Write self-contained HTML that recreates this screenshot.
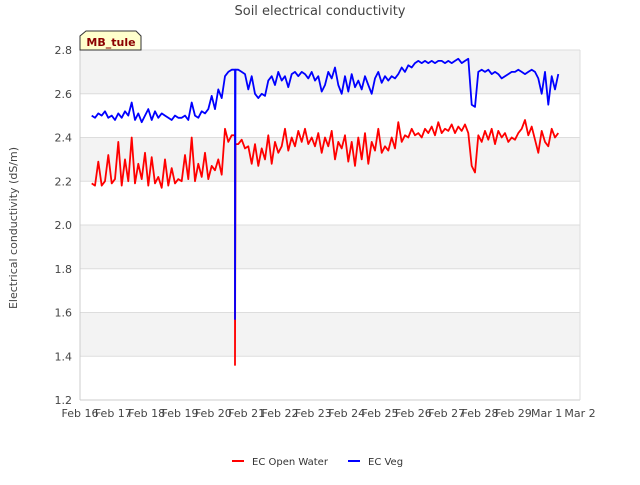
<!DOCTYPE html>
<html><head><meta charset="utf-8"><style>
body{margin:0;background:#fff;font-family:"Liberation Sans",sans-serif}
text{font-family:"DejaVu Sans","Liberation Sans",sans-serif}
</style></head><body>
<svg id="chart" width="640" height="480" xmlns="http://www.w3.org/2000/svg">
<text x="320" y="15" text-anchor="middle" font-size="13" fill="#444">Soil electrical conductivity</text>
<g id="bands"></g>
<g id="grid"></g>
<line x1="80" y1="50" x2="80" y2="400" stroke="#ccc"/>
<line x1="80" y1="400" x2="580" y2="400" stroke="#ccc"/>
<line x1="580" y1="50" x2="580" y2="400" stroke="#ddd"/>
<g id="ylabels"></g><g id="xlabels"></g>
<g id="series"></g>
<text transform="translate(17,228) rotate(-90)" text-anchor="middle" font-size="11" fill="#444">Electrical conductivity (dS/m)</text>
<g>
<path d="M80,50 L80,36 L86,31 L136,31 L141,36 L141,50 Z" fill="#ffffcc" stroke="#333"/>
<text x="111" y="46" text-anchor="middle" font-size="11" font-weight="bold" fill="#8b0000">MB_tule</text>
</g>
<g><line x1="232" y1="461" x2="244" y2="461" stroke="#f00" stroke-width="2"/><text x="252" y="465" font-size="10" fill="#333">EC Open Water</text></g>
<g><line x1="348" y1="461" x2="360" y2="461" stroke="#00f" stroke-width="2"/><text x="368" y="465" font-size="10" fill="#333">EC Veg</text></g>
</svg>
<script>
const yTicks=[1.2,1.4,1.6,1.8,2.0,2.2,2.4,2.6,2.8];
const xTickLabels=["Feb 16","Feb 17","Feb 18","Feb 19","Feb 20","Feb 21","Feb 22","Feb 23","Feb 24","Feb 25","Feb 26","Feb 27","Feb 28","Feb 29","Mar 1","Mar 2"];
const startDay=0.35, stepDay=0.1;
const ecOpenWater=[2.19,2.18,2.29,2.18,2.20,2.32,2.19,
2.21,2.38,2.18,2.30,2.20,2.40,2.19,2.28,2.21,2.33,
2.18,2.31,2.19,2.22,2.17,2.30,2.18,2.26,2.19,2.21,
2.20,2.32,2.21,2.40,2.20,2.28,2.22,2.33,2.21,2.27,
2.25,2.30,2.23,2.44,2.38,2.41,1.36,2.37,2.39,2.35,
2.36,2.28,2.37,2.27,2.35,2.30,2.41,2.28,2.38,2.33,
2.36,2.44,2.34,2.40,2.36,2.43,2.38,2.44,2.37,2.40,
2.36,2.42,2.33,2.40,2.36,2.43,2.30,2.38,2.35,2.41,
2.29,2.38,2.27,2.40,2.30,2.42,2.28,2.38,2.34,2.44,
2.33,2.36,2.34,2.40,2.35,2.47,2.38,2.41,2.40,2.44,
2.41,2.42,2.40,2.44,2.42,2.45,2.41,2.47,2.42,2.44,
2.43,2.46,2.42,2.45,2.43,2.46,2.42,2.27,2.24,2.41,
2.38,2.43,2.39,2.44,2.37,2.43,2.40,2.42,2.38,2.40,
2.39,2.42,2.44,2.48,2.41,2.45,2.39,2.33,2.43,2.38,
2.36,2.44,2.40,2.42];
const ecVeg=[2.50,2.49,2.51,2.50,2.52,2.49,2.50,
2.48,2.51,2.49,2.52,2.50,2.56,2.48,2.51,2.47,2.50,
2.53,2.48,2.52,2.49,2.51,2.50,2.49,2.48,2.50,2.49,
2.49,2.50,2.48,2.56,2.50,2.49,2.52,2.51,2.53,2.59,
2.53,2.62,2.58,2.68,2.70,2.71,1.57,2.71,2.70,2.69,
2.62,2.68,2.60,2.58,2.60,2.59,2.66,2.68,2.64,2.70,
2.66,2.68,2.63,2.69,2.70,2.68,2.70,2.69,2.67,2.70,
2.66,2.68,2.61,2.64,2.70,2.67,2.72,2.64,2.60,2.68,
2.61,2.69,2.63,2.66,2.62,2.68,2.64,2.60,2.67,2.70,
2.65,2.68,2.66,2.68,2.67,2.69,2.72,2.70,2.73,2.72,
2.74,2.75,2.74,2.75,2.74,2.75,2.74,2.75,2.75,2.74,
2.75,2.74,2.75,2.76,2.74,2.75,2.76,2.55,2.54,2.70,
2.71,2.70,2.71,2.69,2.70,2.69,2.67,2.68,2.69,2.70,
2.70,2.71,2.70,2.69,2.70,2.71,2.70,2.67,2.60,2.70,
2.55,2.68,2.62,2.69];
const NS="http://www.w3.org/2000/svg";
const X0=80,X1=580,Y0=400,Y1=50;
const xS=d=>X0+d*(X1-X0)/15;
const yS=v=>Y0-(v-1.2)*(Y0-Y1)/1.6;
function mk(tag,attrs,parent){const e=document.createElementNS(NS,tag);for(const k in attrs)e.setAttribute(k,attrs[k]);parent.appendChild(e);return e;}
const bands=document.getElementById('bands'),grid=document.getElementById('grid'),yl=document.getElementById('ylabels'),xl=document.getElementById('xlabels'),ser=document.getElementById('series');
for(let i=0;i<yTicks.length-1;i++){
  if(i%2===1){const r=mk('rect',{x:X0,y:yS(yTicks[i+1]),width:X1-X0,height:yS(yTicks[i])-yS(yTicks[i+1]),fill:'#f3f3f3'},bands);
  
  }
}
yTicks.forEach(t=>{
  const l=mk('line',{x1:X0,x2:X1,y1:yS(t),y2:yS(t),stroke:'#ddd'},grid);
  
  
  const tx=mk('text',{x:X0-8,y:yS(t)+4,'text-anchor':'end','font-size':'11',fill:'#444'},yl);tx.textContent=t.toFixed(1);
  
  
});
xTickLabels.forEach((s,i)=>{
  const tx=mk('text',{x:xS(i),y:417,'text-anchor':'middle','font-size':'11',fill:'#444'},xl);tx.textContent=s;
  
  
});
function line(arr,color,name){
  const pts=[];
  arr.forEach((v,i)=>{
    const x=xS(startDay+i*stepDay);
    const prev=i>0?arr[i-1]:v, next=i<arr.length-1?arr[i+1]:v;
    if(Math.abs(v-prev)>0.5&&Math.abs(v-next)>0.5){
      // sudden spike: draw as a vertical segment
      pts.push([x,yS(prev)],[x,yS(v)],[x+0.5,yS(next)]);
    } else pts.push([x,yS(v)]);
  });
  const p=mk('polyline',{points:pts.map(q=>q[0].toFixed(1)+','+q[1].toFixed(1)).join(' '),fill:'none',stroke:color,'stroke-width':'1.8','stroke-linejoin':'round'},ser);
  
  
}
line(ecOpenWater,'#ff0000','series-ec-open-water');
line(ecVeg,'#0000ff','series-ec-veg');
</script>
</body></html>
